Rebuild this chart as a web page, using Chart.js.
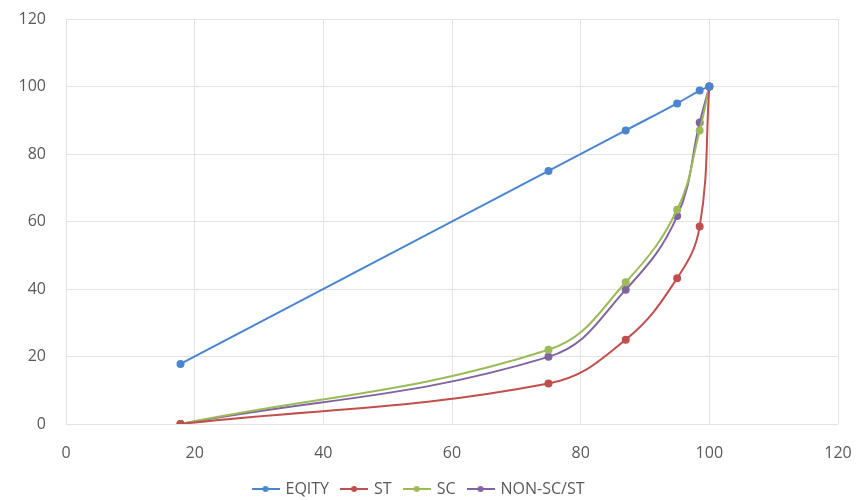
<!DOCTYPE html>
<html>
<head>
<meta charset="utf-8">
<script src="https://cdn.jsdelivr.net/npm/chart.js@4"></script>
<style>
  html, body { margin: 0; padding: 0; background: #ffffff; }
  #wrap { width: 857px; height: 500px; }
</style>
</head>
<body>
<div id="wrap"><canvas id="grafico" width="857" height="500"></canvas></div>
<script>
// Dados
const seriesNames = ["EQITY", "ST", "SC", "NON-SC/ST"];
const xValues = [17.8, 75, 87, 95, 98.5, 100];
const equityValues = [17.8, 75, 87, 95, 98.8, 100];
const stValues = [0, 12, 25, 43.2, 58.5, 100];
const scValues = [0, 22, 42, 63.5, 87, 100];
const nonScStValues = [0, 19.9, 39.8, 61.6, 89.3, 100];
const xTicks = [0, 20, 40, 60, 80, 100, 120];
const yTicks = [0, 20, 40, 60, 80, 100, 120];

const cores = ["#4a86cf", "#c0504d", "#9bbb59", "#8064a2"];
const todasSeries = [equityValues, stValues, scValues, nonScStValues];
const corTexto = "#595959";
const fonte = "Open Sans";

// Ícone da legenda: linha com um ponto no meio (estilo Excel)
function iconeLegenda(cor) {
  const c = document.createElement("canvas");
  c.width = 28;
  c.height = 10;
  const ctx = c.getContext("2d");
  ctx.strokeStyle = cor;
  ctx.lineWidth = 2;
  ctx.beginPath();
  ctx.moveTo(0, 5);
  ctx.lineTo(28, 5);
  ctx.stroke();
  ctx.fillStyle = cor;
  ctx.beginPath();
  ctx.arc(14, 5, 3, 0, Math.PI * 2);
  ctx.fill();
  return c;
}

const datasets = seriesNames.map((nome, i) => ({
  label: nome,
  data: xValues.map((x, j) => ({ x: x, y: todasSeries[i][j] })),
  borderColor: cores[i],
  backgroundColor: cores[i],
  borderWidth: 2,
  pointRadius: 3,
  pointHoverRadius: 4,
  showLine: true,
  tension: 0.4,
  fill: false,
}));

// zera o espaço extra que os eixos pedem para os rótulos das pontas
function semPaddingExtra(axis) {
  axis.paddingLeft = 0;
  axis.paddingRight = 0;
  axis.paddingTop = 0;
  axis.paddingBottom = 0;
}

const ctxGrafico = document.getElementById("grafico");
new Chart(ctxGrafico.getContext("2d"), {
  type: "scatter",
  data: { datasets: datasets },
  options: {
    responsive: false,
    animation: false,
    layout: { padding: { left: 0, right: 19, top: 19, bottom: -7 } },
    plugins: {
      legend: {
        position: "bottom",
        labels: {
          usePointStyle: true,
          pointStyleWidth: 24,
          color: corTexto,
          font: { family: fonte, size: 16 },
          padding: 13,
          generateLabels: (chart) =>
            chart.data.datasets.map((ds, i) => ({
              text: ds.label,
              pointStyle: iconeLegenda(cores[i]),
              fillStyle: cores[i],
              strokeStyle: cores[i],
              fontColor: corTexto,
              datasetIndex: i,
              hidden: false,
            })),
        },
      },
      tooltip: { enabled: false },
    },
    scales: {
      x: {
        type: "linear",
        min: 0,
        max: 120,
        afterBuildTicks: (axis) => {
          axis.ticks = xTicks.map((v) => ({ value: v }));
        },
        afterFit: (axis) => {
          axis.height = 44;
          semPaddingExtra(axis);
        },
        grid: { color: "#e3e3e3", drawTicks: false },
        border: { display: false },
        ticks: {
          color: corTexto,
          font: { family: fonte, size: 16 },
          padding: 20,
          maxRotation: 0,
        },
      },
      y: {
        type: "linear",
        min: 0,
        max: 120,
        afterBuildTicks: (axis) => {
          axis.ticks = yTicks.map((v) => ({ value: v }));
        },
        afterFit: (axis) => {
          axis.width = 66;
          semPaddingExtra(axis);
        },
        grid: { color: "#e3e3e3", drawTicks: false },
        border: { display: false },
        ticks: {
          color: corTexto,
          font: { family: fonte, size: 16 },
          padding: 20,
        },
      },
    },
  },
});
</script>
</body>
</html>
